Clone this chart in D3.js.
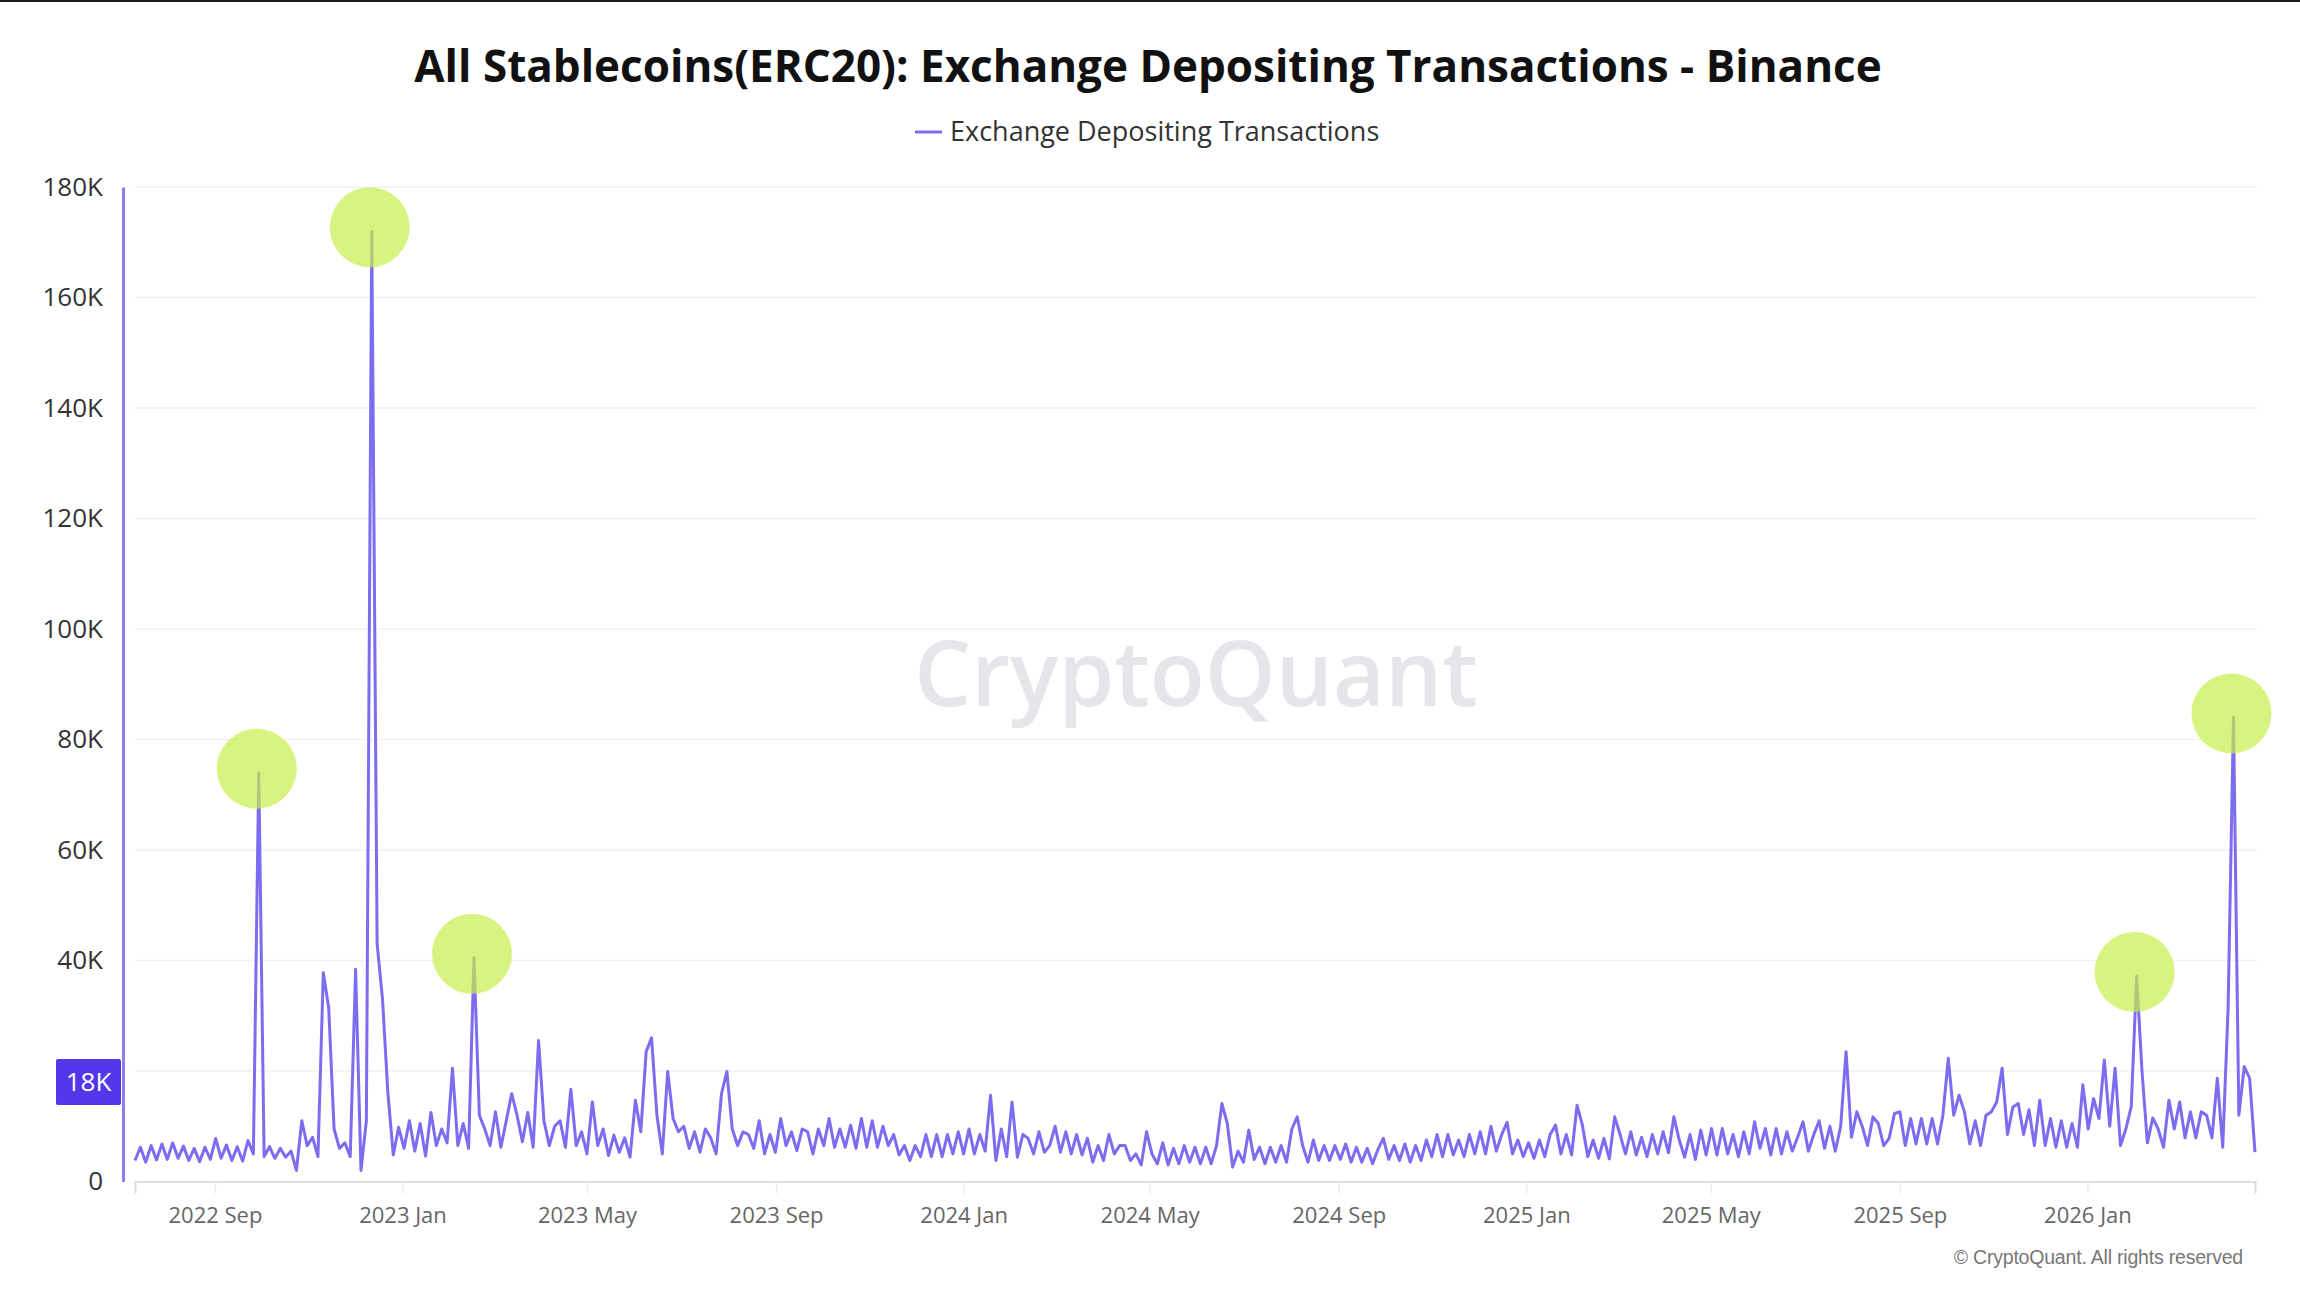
<!DOCTYPE html>
<html><head><meta charset="utf-8">
<script src="https://cdn.jsdelivr.net/npm/d3@7"></script>
<style>
html,body{margin:0;padding:0;background:#fff;}
svg{display:block;}
</style></head><body>
<svg id="chart" width="2300" height="1294"></svg>
<script>
// ---- data (values in thousands of transactions, one point per half week) ----
const startDate = "2022-07-11";
const stepDays = 3.5;
const depositsK = [
  3.8, 6.2, 3.5, 6.5, 3.9, 6.8, 4.0, 7.0, 4.2, 6.4,
  3.8, 6.0, 3.6, 6.2, 4.0, 7.8, 4.2, 6.6, 3.8, 6.3,
  3.7, 7.4, 5.0, 74, 4.5, 6.3, 4.2, 6.0, 4.4, 5.5,
  2.0, 11.0, 6.5, 8.0, 4.5, 37.8, 31.4, 9.5, 6.0, 7.0,
  4.5, 38.4, 2.0, 11.0, 172, 43, 33, 16, 4.8, 9.8,
  6.0, 11.0, 5.5, 10.5, 4.6, 12.5, 6.5, 9.5, 7.0, 20.5,
  6.5, 10.5, 6.0, 40.5, 12.0, 9.5, 6.5, 12.6, 6.2, 11.0,
  15.9, 12.0, 7.2, 12.5, 6.2, 25.5, 11.0, 6.5, 10.0, 11.0,
  6.2, 16.7, 6.5, 9.0, 5.0, 14.4, 6.5, 9.5, 4.7, 8.4,
  5.3, 7.9, 4.4, 14.7, 9.0, 23.5, 26.0, 12.0, 5.0, 19.9,
  11.4, 9.0, 10.0, 6.0, 9.0, 5.3, 9.5, 7.9, 5.0, 15.9,
  19.9, 9.5, 6.5, 9.0, 8.5, 6.0, 11.0, 5.0, 8.5, 5.3,
  11.4, 6.5, 9.0, 5.6, 9.5, 9.0, 5.0, 9.5, 6.5, 11.4,
  6.2, 9.5, 6.2, 10.2, 6.0, 11.4, 6.2, 11.0, 6.2, 10.0,
  6.5, 8.5, 4.8, 6.5, 3.8, 6.5, 4.5, 8.5, 4.5, 8.5,
  4.5, 8.5, 5.0, 9.0, 5.0, 9.5, 5.0, 8.5, 5.5, 15.6,
  3.8, 9.5, 4.5, 14.4, 4.4, 8.5, 7.8, 5.0, 9.0, 5.3,
  6.5, 10.0, 5.3, 9.0, 5.0, 8.5, 4.8, 7.8, 3.5, 6.5,
  3.8, 8.5, 5.0, 6.5, 6.5, 3.8, 5.0, 3.0, 9.0, 5.0,
  3.2, 7.0, 3.0, 6.0, 3.2, 6.5, 3.5, 6.2, 3.2, 6.2,
  3.2, 6.5, 14.1, 10.5, 2.6, 5.5, 3.5, 9.3, 4.0, 6.2,
  3.2, 6.2, 3.5, 6.5, 3.5, 9.5, 11.7, 6.5, 3.5, 7.5,
  3.8, 6.5, 3.8, 6.5, 4.0, 6.8, 3.5, 6.2, 3.5, 6.0,
  3.2, 5.8, 7.8, 4.0, 6.5, 3.8, 6.8, 3.5, 6.5, 3.8,
  7.5, 4.5, 8.5, 4.5, 8.5, 4.8, 7.5, 4.5, 8.5, 5.0,
  9.0, 5.0, 10.0, 5.5, 8.5, 10.7, 5.0, 7.5, 4.5, 7.0,
  4.2, 7.5, 4.5, 8.5, 10.2, 5.0, 8.5, 4.8, 13.8, 10.2,
  4.5, 7.5, 4.2, 7.8, 4.1, 11.7, 8.5, 5.0, 9.0, 4.8,
  8.0, 4.5, 8.5, 5.0, 9.0, 5.2, 11.7, 7.5, 4.4, 8.5,
  4.0, 9.3, 4.8, 9.6, 4.8, 9.6, 5.0, 8.5, 4.5, 9.0,
  5.0, 10.8, 6.0, 9.6, 4.8, 9.6, 5.0, 9.0, 5.5, 8.0,
  10.8, 5.5, 8.5, 11.0, 6.0, 10.0, 5.5, 10.0, 23.5, 8.0,
  12.6, 10.0, 6.5, 11.7, 10.5, 6.5, 7.8, 12.3, 12.6, 6.5,
  11.4, 6.8, 11.4, 6.8, 11.4, 6.8, 12.0, 22.3, 12.0, 15.6,
  12.6, 6.8, 11.0, 6.5, 12.0, 12.6, 14.4, 20.5, 8.5, 13.5,
  14.1, 8.5, 13.0, 6.5, 14.7, 6.5, 11.4, 6.2, 11.0, 6.2,
  10.5, 6.2, 17.5, 9.5, 15.0, 11.4, 22.0, 10.0, 20.5, 6.5,
  9.5, 13.5, 37.2, 20.0, 7.0, 11.5, 9.5, 6.2, 14.7, 9.5,
  14.4, 7.9, 12.6, 7.9, 12.6, 12.0, 7.9, 18.7, 6.2, 31.4,
  84, 12.0, 20.8, 18.7, 5.3
];
const yGridValues = [20, 40, 60, 80, 100, 120, 140, 160, 180];
const yLabelValues = [0, 40, 60, 80, 100, 120, 140, 160, 180]; // 20K label sits under the 18K badge
const highlightIdx = [23, 44, 63, 372, 390];
const currentValueK = 18;
const titleText = "All Stablecoins(ERC20): Exchange Depositing Transactions - Binance";
const seriesName = "Exchange Depositing Transactions";

// ---- build ----
const parse = d3.utcParse("%Y-%m-%d");
const t0 = parse(startDate);
const data = depositsK.map((v, i) => ({date: new Date(t0.getTime() + i * stepDays * 864e5), v}));

const svg = d3.select("#chart");
const lineColor = "#7b6cf0";
const plotLeft = 135, plotRight = 2255, plotTop = 187, plotBottom = 1181.5;

const x = d3.scaleUtc().domain([data[0].date, data[data.length - 1].date]).range([plotLeft, plotRight]);
const y = d3.scaleLinear().domain([0, 180]).range([plotBottom, plotTop]);

svg.append("rect").attr("x", 0).attr("y", 0).attr("width", 2300).attr("height", 2).attr("fill", "#1a1a1a");

// title
svg.append("text").attr("x", 1148).attr("y", 82).attr("text-anchor", "middle")
  .attr("font-family", "'Open Sans', 'Noto Sans', sans-serif").attr("font-weight", 700)
  .attr("font-size", 44).attr("fill", "#111").text(titleText);

// legend
svg.append("line").attr("x1", 915).attr("x2", 942).attr("y1", 132).attr("y2", 132)
  .attr("stroke", lineColor).attr("stroke-width", 3);
svg.append("text").attr("x", 950).attr("y", 141)
  .attr("font-family", "'Open Sans', 'Noto Sans', sans-serif").attr("font-size", 27)
  .attr("fill", "#333").text(seriesName);

// watermark
svg.append("text").attr("x", 1196).attr("y", 706).attr("text-anchor", "middle")
  .attr("font-family", "'Open Sans', sans-serif").attr("font-weight", 600)
  .attr("font-size", 90).attr("fill", "#e6e6ea").text("CryptoQuant");

// gridlines
svg.append("g").selectAll("line").data(yGridValues).join("line")
  .attr("x1", plotLeft).attr("x2", plotRight + 2).attr("y1", d => y(d)).attr("y2", d => y(d))
  .attr("stroke", "#f1f1f3").attr("stroke-width", 1.5);

// x axis
const xAxis = d3.axisBottom(x).ticks(d3.utcMonth.every(4)).tickFormat(d3.utcFormat("%Y %b"))
  .tickSize(12).tickPadding(14);
const gx = svg.append("g").attr("transform", `translate(0,${plotBottom})`).call(xAxis);
gx.select(".domain").attr("stroke", "#dddddd").attr("stroke-width", 2);
gx.selectAll(".tick line").attr("stroke", "#ececec").attr("stroke-width", 1.5);
gx.selectAll(".tick text").attr("font-family", "'Open Sans', sans-serif").attr("font-size", 22).attr("fill", "#666");

// y axis
const yAxis = d3.axisLeft(y).tickValues(yLabelValues).tickFormat(d => d === 0 ? "0" : d + "K")
  .tickSize(0).tickPadding(20);
const gy = svg.append("g").attr("transform", `translate(${123},0)`).call(yAxis);
gy.select(".domain").attr("stroke", "#8c7df2").attr("stroke-width", 3);
gy.selectAll(".tick text").attr("font-family", "'Open Sans', sans-serif").attr("font-size", 26).attr("fill", "#333");

// line
svg.append("path").datum(data)
  .attr("fill", "none").attr("stroke", lineColor).attr("stroke-width", 3).attr("stroke-linejoin", "round")
  .attr("d", d3.line().x(d => x(d.date)).y(d => y(d.v)));

// highlight circles
svg.append("g").selectAll("circle").data(highlightIdx.map(i => data[i])).join("circle")
  .attr("cx", d => x(d.date) - 2).attr("cy", d => y(d.v) - 4).attr("r", 40)
  .attr("fill", "#c8f04a").attr("fill-opacity", 0.7);

// current value badge
const by = y(currentValueK);
svg.append("rect").attr("x", 56).attr("y", by - 23).attr("width", 65).attr("height", 46).attr("rx", 2)
  .attr("fill", "#5238ea");
svg.append("text").attr("x", 88.5).attr("y", by + 9).attr("text-anchor", "middle")
  .attr("font-family", "'Open Sans', sans-serif").attr("font-size", 26).attr("fill", "#fff")
  .text(currentValueK + "K");

// copyright
svg.append("text").attr("x", 2243).attr("y", 1264).attr("text-anchor", "end")
  .attr("font-family", "'Liberation Sans', Arial, sans-serif").attr("font-size", 19.5)
  .attr("letter-spacing", -0.2).attr("fill", "#777").text("© CryptoQuant. All rights reserved");
</script>
</body></html>
